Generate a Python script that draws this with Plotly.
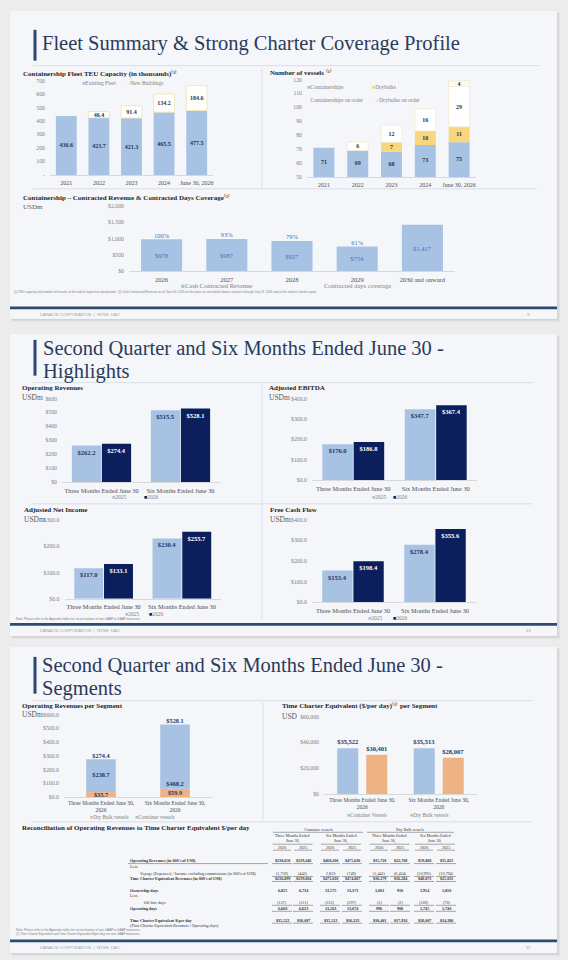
import plotly.graph_objects as go

W, H = 568, 960
SERIF = "Liberation Serif"
SANS = "Liberation Sans"

LIGHT_BLUE = "#A7C2E3"
NAVY = "#0B1F5C"
YELLOW = "#F8D67E"
ORANGE = "#EEB385"
CREAM = "#EFE2B2"
INK = "#1F3461"
TITLE = "#2B3B5A"
SUB = "#262626"
TICK = "#7F7F7F"
BAND = "#2E4A6D"

# ---- page 9: fleet summary ----
fleet_periods = ["2021", "2022", "2023", "2024", "June 30, 2026"]
teu_existing = [436.6, 423.7, 421.3, 465.5, 477.5]
teu_new_buildings = [0, 46.4, 91.4, 134.2, 184.6]
teu_ticks = [0, 100, 200, 300, 400, 500, 600, 700]
teu_ticklabels = ["-", "100", "200", "300", "400", "500", "600", "700"]

vessels_containerships = [71, 69, 68, 73, 75]
vessels_drybulks = [0, 0, 7, 10, 11]
vessels_container_order = [0, 6, 12, 16, 29]
vessels_drybulk_order = [0, 0, 0, 0, 4]
vessel_ticks = [50, 60, 70, 80, 90, 100, 110, 120]

contract_years = ["2026", "2027", "2028", "2029", "2030 and onward"]
contract_revenue = [978, 987, 927, 754, 1417]
contract_coverage = ["100%", "93%", "79%", "61%", ""]
contract_ticks = [0, 500, 1000, 1500, 2000]
contract_ticklabels = ["$0", "$500", "$1,000", "$1,500", "$2,000"]

# ---- page 10: highlights ----
periods = ["Three Months Ended June 30", "Six Months Ended June 30"]
op_rev_2025 = [262.2, 515.5]
op_rev_2026 = [274.4, 528.1]
ebitda_2025 = [176.0, 347.7]
ebitda_2026 = [186.8, 367.4]
net_income_2025 = [117.0, 230.4]
net_income_2026 = [133.1, 255.7]
fcf_2025 = [153.4, 278.4]
fcf_2026 = [198.4, 355.6]

# ---- page 11: segments ----
seg_periods = ["Three Months Ended June 30,<br>2026", "Six Months Ended June 30,<br>2026"]
seg_drybulk = [35.7, 59.9]
seg_container = [238.7, 468.2]
tce_container = [35522, 35513]
tce_drybulk = [30401, 28007]
tce_ticks = [0, 20000, 40000, 60000]
tce_ticklabels = ["$0", "$20,000", "$40,000", "$60,000"]

tbl_years = ["2026", "2025"] * 4
tbl_op_rev = [238658, 239446, 468200, 475636, 35720, 22708, 59868, 35825]
tbl_voyage = [-1759, -442, 2810, -749, -5441, -6424, -10995, -10794]
tbl_tce_rev = [236899, 239004, 471010, 474887, 30279, 16284, 48873, 25031]
tbl_own_days = [6825, 6734, 13575, 13371, 1001, 910, 1914, 1810]
tbl_off_hire = [-157, -111, -312, -297, -5, -2, -169, -70]
tbl_op_days = [6668, 6623, 13263, 13074, 996, 908, 1745, 1740]
tbl_tce_day = [35522, 36087, 35513, 36323, 30401, 17934, 28007, 14386]


def X(x):
    return x / W


def Y(y):
    return 1 - y / H


fig = go.Figure()
shapes = []
annotations = []
axes = {}


def text(x, y, s, size=6, color=TICK, anchor="left", family=SERIF):
    annotations.append(dict(x=X(x), y=Y(y), xref="paper", yref="paper", text=s,
                            showarrow=False, xanchor=anchor, yanchor="middle",
                            font=dict(family=family, size=size, color=color)))


def rect(x0, y0, x1, y1, fill):
    shapes.append(dict(type="rect", xref="paper", yref="paper", x0=X(x0), x1=X(x1),
                       y0=Y(y1), y1=Y(y0), fillcolor=fill, line=dict(width=0), layer="below"))


def hline(x0, x1, y, color="#D3D8E0", width=0.8):
    shapes.append(dict(type="line", xref="paper", yref="paper", x0=X(x0), x1=X(x1),
                       y0=Y(y), y1=Y(y), line=dict(color=color, width=width)))


def vline(x, y0, y1, color="#D3D8E0", width=0.8):
    shapes.append(dict(type="line", xref="paper", yref="paper", x0=X(x), x1=X(x),
                       y0=Y(y0), y1=Y(y1), line=dict(color=color, width=width)))


def axis_pair(n, x0, x1, ytop, ybot, cats, yrange, tickvals, ticktext, xsize=6, ysize=5.8,
              xstand=2):
    s = "" if n == 1 else str(n)
    axes["xaxis" + s] = dict(domain=[X(x0), X(x1)], anchor="y" + s, type="category",
                             categoryorder="array", categoryarray=cats,
                             range=[-0.5, len(cats) - 0.5], showline=True,
                             linecolor="#D9D9D9", linewidth=1, showgrid=False,
                             zeroline=False, ticks="", ticklabelstandoff=xstand,
                             tickfont=dict(family=SERIF, size=xsize, color="#4D4D4D"),
                             fixedrange=True)
    axes["yaxis" + s] = dict(domain=[Y(ybot), Y(ytop)], anchor="x" + s, range=yrange,
                             tickvals=tickvals, ticktext=ticktext, showgrid=False,
                             zeroline=False, showline=False, ticks="", ticklabelstandoff=4,
                             tickfont=dict(family=SERIF, size=ysize, color=TICK),
                             fixedrange=True)
    return "x" + s, "y" + s


def bar(xa, ya, cats, vals, color, width, offset, base=None, labels=None,
        tpos="inside", anchor="middle", tfont=None, line=None, pattern=None, clip=True):
    marker = dict(color=color, line=line or dict(width=0))
    if pattern:
        marker["pattern"] = pattern
    fig.add_trace(go.Bar(x=cats, y=vals, base=base, xaxis=xa, yaxis=ya, width=width,
                         offset=offset, marker=marker, text=labels, textposition=tpos,
                         insidetextanchor=anchor, textangle=0, constraintext="none",
                         textfont=tfont, cliponaxis=clip, showlegend=False,
                         hoverinfo="skip"))


def nonzero(cats, vals, base=None):
    idx = [i for i, v in enumerate(vals) if v]
    return ([cats[i] for i in idx], [vals[i] for i in idx],
            None if base is None else [base[i] for i in idx])


def labels_at(xa, ya, cats, yvals, labels, font, pos="middle center"):
    fig.add_trace(go.Scatter(x=cats, y=yvals, xaxis=xa, yaxis=ya, mode="text", text=labels,
                             textposition=pos, textfont=font, cliponaxis=False,
                             showlegend=False, hoverinfo="skip"))


def legend_item(x, y, color, label, size=5.5):
    text(x, y, f'<span style="color:{color}">■</span>{label}', size=size, color=TICK)


def slide_frame(top, bottom, bar_top, title_bar, page):
    rect(12, top + 2, 560, bottom + 3, "rgba(0,0,0,0.04)")
    rect(11, top + 1, 558.5, bottom + 1.5, "rgba(0,0,0,0.07)")
    rect(10, top, 557, bottom, "#F4F6FA")
    rect(33.5, title_bar[0], 36.5, title_bar[1], "#2C4770")
    rect(10, bar_top, 557, bar_top + 2.6, BAND)
    text(38, bar_top + 7.5, "DANAOS CORPORATION  |  NYSE: DAC", size=4.3, color="#9AA2AD", family=SANS)
    text(528, bar_top + 7.5, page, size=4.3, color="#9AA2AD", anchor="center", family=SANS)


TITLE_SIZE = 20.5

# =================== page 9 ===================
slide_frame(8, 318, 305.5, (27, 58), "9")
text(40, 41, "Fleet Summary &amp; Strong Charter Coverage Profile", size=TITLE_SIZE, color=TITLE)
hline(33, 540, 63)
vline(262, 66, 186)
hline(33, 537, 187)

text(21, 71, "<b>Containership Fleet TEU Capacity (in thousands)</b>⁽¹⁾", size=7, color=SUB)
legend_item(80, 80.5, LIGHT_BLUE, "Existing Fleet")
legend_item(125, 80.5, "#F6EED0", "New Buildings")

xa, ya = axis_pair(1, 50, 213, 78, 173, fleet_periods, [0, 700], teu_ticks, teu_ticklabels)
bar_font = dict(family=SERIF, size=6, color=INK)
bar(xa, ya, fleet_periods, teu_existing, LIGHT_BLUE, 0.64, -0.32,
    labels=[f"<b>{v:.1f}</b>" for v in teu_existing], tfont=bar_font)
cx, cy, cb = nonzero(fleet_periods, teu_new_buildings, teu_existing)
bar(xa, ya, cx, cy, "white", 0.64, -0.32, base=cb,
    labels=[f"<b>{v:.1f}</b>" for v in cy], tfont=bar_font,
    line=dict(color=CREAM, width=0.8),
    pattern=dict(shape=".", fgcolor="#F1E7C2", bgcolor="white", size=3, solidity=0.15))

text(268, 70, "<b>Number of vessels</b> ⁽¹⁾", size=7, color=SUB)
legend_item(305, 85, LIGHT_BLUE, "Containerships")
legend_item(370, 85, YELLOW, "Drybulks")
legend_item(305, 98, "#FBF7E8", "Containerships on order")
legend_item(374, 98, "#F3E9C2", "Drybulks on order")

xa, ya = axis_pair(2, 307, 476, 77, 175, fleet_periods, [vessel_ticks[0], vessel_ticks[-1]],
                   vessel_ticks, [str(v) for v in vessel_ticks])
base_co = [a + b for a, b in zip(vessels_containerships, vessels_drybulks)]
base_do = [a + b for a, b in zip(base_co, vessels_container_order)]
vfont = dict(family=SERIF, size=6, color="#333333")
bar(xa, ya, fleet_periods, vessels_containerships, LIGHT_BLUE, 0.62, -0.31)
cx, cy, cb = nonzero(fleet_periods, vessels_drybulks, vessels_containerships)
bar(xa, ya, cx, cy, YELLOW, 0.62, -0.31, base=cb,
    labels=[f"<b>{v}</b>" for v in cy], tfont=vfont)
cx, cy, cb = nonzero(fleet_periods, vessels_container_order, base_co)
bar(xa, ya, cx, cy, "white", 0.62, -0.31, base=cb,
    labels=[f"<b>{v}</b>" for v in cy], tfont=vfont,
    line=dict(color="#F3EBCD", width=0.8))
cx, cy, cb = nonzero(fleet_periods, vessels_drybulk_order, base_do)
bar(xa, ya, cx, cy, "white", 0.62, -0.31, base=cb,
    labels=[f"<b>{v}</b>" for v in cy], tfont=vfont,
    line=dict(color="#F3EBCD", width=0.8),
    pattern=dict(shape=".", fgcolor="#E9DBA3", bgcolor="white", size=3, solidity=0.3))
labels_at(xa, ya, fleet_periods, [(vessel_ticks[0] + v) / 2 for v in vessels_containerships],
          [f"<b>{v}</b>" for v in vessels_containerships], vfont)

text(21, 196, "<b>Containership – Contracted Revenue &amp; Contracted Days Coverage</b>⁽²⁾",
     size=7, color=SUB)
text(21, 205, "USDm", size=7, color="#595959")
xa, ya = axis_pair(3, 129, 455, 204, 270, contract_years, [0, 2000], contract_ticks,
                   contract_ticklabels, xsize=6.5)
cfont = dict(family=SERIF, size=6.5, color="#4472C4")
bar(xa, ya, contract_years, contract_revenue, LIGHT_BLUE, 0.63, -0.315,
    labels=[f"${v:,}" for v in contract_revenue], tfont=cfont)
cov_idx = [i for i, c in enumerate(contract_coverage) if c]
labels_at(xa, ya, [contract_years[i] for i in cov_idx], [contract_revenue[i] for i in cov_idx],
          [contract_coverage[i] for i in cov_idx], cfont, pos="top center")
text(217, 284, f'<span style="color:{LIGHT_BLUE}">■</span>Cash Contracted Revenue',
     size=6.5, color=TICK, anchor="center")
text(357, 284, "Contracted days coverage", size=6.5, color=TICK, anchor="center")
text(12, 291, "(1) TEU capacity and number of vessels at the end of respective year/period.  "
     "(2) Cash Contracted Revenue as of June 30, 2026 on the basis of concluded charter contracts "
     "through July 31, 2026 and at the earliest charter expiry.", size=3, color=TICK, family=SANS)

# =================== page 10 ===================
slide_frame(333, 637, 624, (339, 375), "10")
text(41, 347, "Second Quarter and Six Months Ended June 30 -", size=TITLE_SIZE, color=TITLE)
text(41, 370.5, "Highlights", size=TITLE_SIZE, color=TITLE)
hline(33, 533, 382)
vline(262, 384, 620)
hline(31, 532, 504)

gfont25 = dict(family=SERIF, size=6.5, color=INK)
gfont26 = dict(family=SERIF, size=6.5, color="white")


def grouped(n, box, yrange, tickvals, ticktext, v25, v26, fmt):
    xa, ya = axis_pair(n, *box, periods, yrange, tickvals, ticktext, xsize=6.3)
    bar(xa, ya, periods, v25, LIGHT_BLUE, 0.37, -0.375,
        labels=[f"<b>${v:{fmt}}</b>" for v in v25], anchor="end", tfont=gfont25)
    bar(xa, ya, periods, v26, NAVY, 0.37, 0.005,
        labels=[f"<b>${v:{fmt}}</b>" for v in v26], anchor="end", tfont=gfont26)


def ticks_money(top, step, dec):
    vals = list(range(0, top + 1, step))
    return vals, [f"${v:,.{dec}f}" for v in vals]


text(20, 387, "<b>Operating Revenues</b>", size=7, color=SUB)
text(20, 397, "USDm", size=7.5, color="#595959")
tv, tt = ticks_money(600, 100, 0)
grouped(4, (62, 220, 398, 482), [0, 600], tv, tt, op_rev_2025, op_rev_2026, ".1f")
legend_item(110, 497, LIGHT_BLUE, "2025")
legend_item(142, 497, NAVY, "2026")

text(267, 387, "<b>Adjusted EBITDA</b>", size=7, color=SUB)
text(267, 397, "USDm", size=7.5, color="#595959")
tv, tt = ticks_money(400, 100, 1)
grouped(5, (312, 477, 398, 480), [0, 400], tv, tt, ebitda_2025, ebitda_2026, ".1f")
legend_item(370, 497, LIGHT_BLUE, "2025")
legend_item(391, 497, NAVY, "2026")

text(22, 510, "<b>Adjusted Net Income</b>", size=7, color=SUB)
text(22, 519.5, "USDm", size=7.5, color="#595959")
tv, tt = ticks_money(300, 100, 1)
grouped(6, (64.5, 221, 520.5, 599.5), [0, 300], tv, tt, net_income_2025, net_income_2026, ".1f")
legend_item(123, 615, LIGHT_BLUE, "2025")
legend_item(147, 615, NAVY, "2026")
text(14, 619.5, "Note: Please refer to the Appendix tables for reconciliations of non-GAAP to GAAP measures.",
     size=3, color=TICK, family=SANS)

text(268, 510, "<b>Free Cash Flow</b>", size=7, color=SUB)
text(268, 519.5, "USDm", size=7.5, color="#595959")
tv, tt = ticks_money(400, 100, 1)
grouped(7, (312, 476, 520, 603), [0, 400], tv, tt, fcf_2025, fcf_2026, ".1f")
legend_item(366, 619, LIGHT_BLUE, "2025")
legend_item(391, 619, NAVY, "2026")

# =================== page 11 ===================
slide_frame(648, 956, 942.5, (658, 695), "11")
text(40, 666, "Second Quarter and Six Months Ended June 30 -", size=TITLE_SIZE, color=TITLE)
text(40, 689.5, "Segments", size=TITLE_SIZE, color=TITLE)
hline(33, 533, 702)
vline(263, 704, 822)
hline(31, 532, 824)

text(20, 707, "<b>Operating Revenues per Segment</b>", size=7, color=SUB)
text(20, 716, "USDm", size=7.5, color="#595959")
tv, tt = ticks_money(600, 100, 1)
xa, ya = axis_pair(8, 64, 212, 716, 799, seg_periods, [0, 600], tv, tt, xsize=5.5, xstand=0)
sfont = dict(family=SERIF, size=6.3, color=INK)
bar(xa, ya, seg_periods, seg_drybulk, ORANGE, 0.4, -0.2,
    labels=[f"<b>${v:.1f}</b>" for v in seg_drybulk], tfont=sfont)
bar(xa, ya, seg_periods, seg_container, LIGHT_BLUE, 0.4, -0.2, base=seg_drybulk)
label_frac = [0.5, 0.075]
labels_at(xa, ya, seg_periods, [d + c * f for d, c, f in zip(seg_drybulk, seg_container, label_frac)],
          [f"<b>${v:.1f}</b>" for v in seg_container], sfont)
labels_at(xa, ya, seg_periods, [d + c for d, c in zip(seg_drybulk, seg_container)],
          [f"<b>${d + c:.1f}</b>" for d, c in zip(seg_drybulk, seg_container)], sfont,
          pos="top center")
legend_item(88, 819, ORANGE, "Dry Bulk vessels", size=5.2)
legend_item(133, 819, LIGHT_BLUE, "Container vessels", size=5.2)

text(280, 707, "<b>Time Charter Equivalent ($/per day)</b>⁽¹⁾<b> per Segment</b>",
     size=7, color=SUB)
text(280, 718, "USD", size=7.5, color="#595959")
xa, ya = axis_pair(9, 324, 477, 718, 796, seg_periods, [0, 60000], tce_ticks, tce_ticklabels,
                   xsize=5.5, xstand=0)
tfont = dict(family=SERIF, size=6.5, color=INK)
bar(xa, ya, seg_periods, tce_container, LIGHT_BLUE, 0.275, -0.327,
    labels=[f"<b>${v:,}</b>" for v in tce_container], tpos="outside", tfont=tfont, clip=False)
bar(xa, ya, seg_periods, tce_drybulk, ORANGE, 0.275, 0.052,
    labels=[f"<b>${v:,}</b>" for v in tce_drybulk], tpos="outside", tfont=tfont, clip=False)
legend_item(345, 817, LIGHT_BLUE, "Container Vessels", size=5.2)
legend_item(408, 817, ORANGE, "Dry Bulk vessels", size=5.2)

# reconciliation table
text(20, 830, "<b>Reconciliation of Operating Revenues to Time Charter Equivalent $/per day</b>",
     size=7, color=SUB)
col_x = [282, 303, 330, 352, 379, 400, 424, 446]
pair_x = [292.5, 341, 389.5, 435]
TS = 4.1
TC = "#333333"
text(318, 832, "Container vessels", size=TS, color=TC, anchor="center")
text(410, 832, "Dry Bulk vessels", size=TS, color=TC, anchor="center")
hline(273, 363, 834.5, color="#555555", width=0.5)
hline(367, 454, 834.5, color="#555555", width=0.5)
for i, px_ in enumerate(pair_x):
    text(px_, 838, "Three Months Ended" if i % 2 == 0 else "Six Months Ended", size=TS, color=TC,
         anchor="center")
    text(px_, 843.5, "June 30,", size=TS, color=TC, anchor="center")
    hline(px_ - 20, px_ + 20, 846.5, color="#555555", width=0.5)
for cx_, yr in zip(col_x, tbl_years):
    text(cx_, 850, yr, size=TS, color=TC, anchor="center")
    hline(cx_ - 9, cx_ + 9, 852.5, color="#555555", width=0.5)


def money(v):
    return f"${v:,}"


def acct(v):
    return f"({abs(v):,})" if v < 0 else f"{v:,}"


table_rows = [
    (863, "<b>Operating Revenues (in 000's of US$)</b>", 128, tbl_op_rev, money, True, True),
    (869, "Less", 128, None, None, False, False),
    (876, "Voyage (Expenses) / Income excluding commissions (in 000's of US$)", 138, tbl_voyage, acct, False, True),
    (881, "<b>Time Charter Equivalent Revenues (in 000's of US$)</b>", 128, tbl_tce_rev, money, True, True),
    (893, "<b>Ownership days</b>", 128, tbl_own_days, acct, True, False),
    (898, "Less", 128, None, None, False, False),
    (905, "Off hire days", 142, tbl_off_hire, acct, False, True),
    (911, "<b>Operating days</b>", 128, tbl_op_days, acct, True, True),
    (923, "<b>Time Charter Equivalent $/per day</b>", 128, tbl_tce_day, money, True, True),
    (928, "<i>(Time Charter Equivalent Revenues / Operating days)</i>", 128, None, None, False, False),
]
for ry, label, lx, vals, fmt, bold, under in table_rows:
    text(lx, ry, label, size=TS, color=TC)
    if vals is None:
        continue
    for cx_, v in zip(col_x, vals):
        s = fmt(v)
        text(cx_, ry, f"<b>{s}</b>" if bold else s, size=TS, color=TC, anchor="center")
        if under:
            hline(cx_ - 10, cx_ + 10, ry + 3, color="#555555", width=0.5)
hline(128, 268, 866, color="#555555", width=0.5)

text(14, 933, "Note: Please refer to the Appendix tables for reconciliations of non-GAAP to GAAP measures.",
     size=3, color=TICK, family=SANS)
text(14, 937, "(1) Time Charter Equivalent and Time Charter Equivalent $/per day are non-GAAP measures.",
     size=3, color=TICK, family=SANS)

fig.update_layout(width=W, height=H, margin=dict(l=0, r=0, t=0, b=0),
                  paper_bgcolor="#ECECEC", plot_bgcolor="rgba(0,0,0,0)",
                  barmode="overlay", showlegend=False, shapes=shapes,
                  annotations=annotations, **axes)
fig.write_html("out.html", config={"displayModeBar": False},
               post_script="document.body.style.margin='0';document.body.style.overflow='hidden';")
